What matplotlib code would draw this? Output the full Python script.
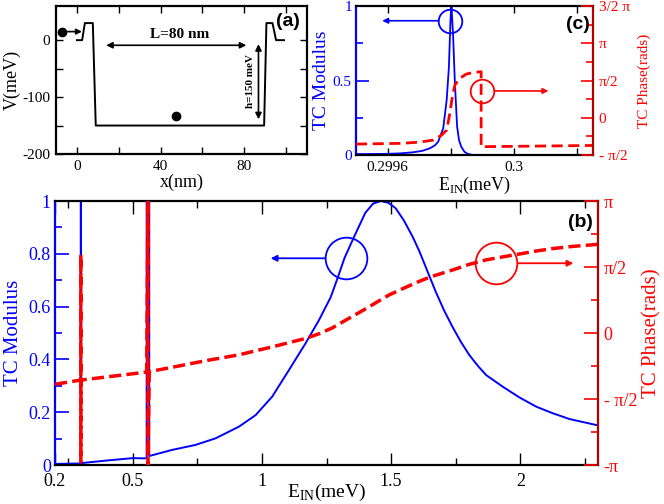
import numpy as np
import matplotlib
matplotlib.use('Agg')
import matplotlib.pyplot as plt

plt.rcParams['font.family'] = ['Liberation Serif', 'DejaVu Serif']
plt.rcParams['mathtext.fontset'] = 'custom'
plt.rcParams['mathtext.rm'] = 'Liberation Serif'
plt.rcParams['axes.unicode_minus'] = False

PI = np.pi

# ---------------- data ----------------
# (a) potential profile
pot_x = [0, 2.5, 3.8, 7.6, 9.0, 89.5, 90.6, 93.5, 95.2, 99]
pot_v = [0, 0, 30, 30, -150, -150, 30, 30, 0, 0]

# (b) TC modulus vs energy
E_b = [0.2, 0.25, 0.2997, 0.2997, 0.3003, 0.3003, 0.40, 0.50, 0.5545, 0.5545,
       0.5645, 0.5645, 0.652, 0.743, 0.821, 0.911, 0.976, 1.04, 1.105, 1.169,
       1.221, 1.266, 1.29, 1.32, 1.357, 1.40, 1.43, 1.46, 1.49, 1.518, 1.55,
       1.583, 1.609, 1.64, 1.673, 1.705, 1.738, 1.77, 1.802, 1.835, 1.867,
       1.931, 1.996, 2.061, 2.125, 2.19, 2.3]
mod_b = [0.004, 0.005, 0.006, 1.0, 1.0, 0.007, 0.017, 0.026, 0.025, 1.0,
         1.0, 0.034, 0.057, 0.076, 0.101, 0.145, 0.189, 0.259, 0.36, 0.461,
         0.549, 0.635, 0.70, 0.785, 0.865, 0.955, 0.99, 1.0, 0.993, 0.972, 0.925,
         0.865, 0.81, 0.735, 0.655, 0.585, 0.522, 0.466, 0.417, 0.376, 0.341,
         0.297, 0.256, 0.221, 0.196, 0.174, 0.150]

# (b) TC phase vs energy
E_pb = [0.2, 0.2995, 0.3, 0.3, 0.3005, 0.5545, 0.5595, 0.5595, 0.5645,
        0.65, 0.782, 0.911, 1.04, 1.169, 1.22, 1.272, 1.337, 1.40, 1.49,
        1.55, 1.609, 1.654, 1.738, 1.80, 1.867, 1.93, 1.996, 2.06, 2.125,
        2.2, 2.3]
ph_b = [-1.22, -1.12, 1.86, -3.07, -1.12, -0.93, 3.14, -3.14, -0.92,
        -0.82, -0.66, -0.52, -0.33, -0.13, -0.02, 0.12, 0.35, 0.57, 0.90,
        1.07, 1.23, 1.34, 1.50, 1.63, 1.74, 1.81, 1.88, 1.95, 2.01,
        2.06, 2.11]

# (c) zoom on first resonance
E_c = [0.2995, 0.2996, 0.29964, 0.29968, 0.29971, 0.299734, 0.29975, 0.29976,
       0.299776, 0.299787, 0.299794, 0.299799, 0.299802, 0.299807, 0.299813,
       0.29982, 0.299826, 0.299833, 0.299843, 0.299854, 0.29987, 0.30025]
mod_c = [0.006, 0.008, 0.011, 0.018, 0.028, 0.045, 0.065, 0.089,
         0.179, 0.37, 0.59, 0.906, 1.0, 0.817, 0.48,
         0.19, 0.10, 0.056, 0.022, 0.007, 0.0, 0.0]

E_pc = [0.2995, 0.299641, 0.2997, 0.299745, 0.299771, 0.299787, 0.299797,
        0.299805, 0.299813, 0.299828, 0.299849, 0.29987, 0.299896, 0.299896,
        0.30025]
ph_c = [-1.11, -1.08, -1.03, -0.94, -0.73, -0.52, 0.19,
        0.89, 1.38, 1.66, 1.84, 1.91, 1.94, -1.22, -1.17]

# tick labels
b_xticks = [0.2, 0.5, 1.0, 1.5, 2.0]
b_xlabels = ['0.2', '0.5', '1', '1.5', '2']
b_xminor = [0.25, 0.75, 1.25, 1.75, 2.25]
b_phticks = [-PI, -PI/2, 0, PI/2, PI]
b_phlabels = ['-π', '- π/2', '0', 'π/2', 'π']
c_xticks = [0.2996, 0.3]
c_xlabels = ['0.2996', '0.3']
c_xminor = [0.2998, 0.3002]
c_phticks = [-PI/2, 0, PI/2, PI, 1.5*PI]
c_phlabels = ['- π/2', '0', 'π/2', 'π', '3/2 π']

# ---------------- figure ----------------
W, H = 664, 504
fig = plt.figure(figsize=(W/100, H/100), dpi=100)

def box(l, t, r, b):
    return [l/W, 1-b/H, (r-l)/W, (b-t)/H]

BLUE = '#0000ff'
RED = '#ff0000'
DRED = '#b00000'
SPW = 1.6
SANS = ['Liberation Sans', 'DejaVu Sans']

# ---------- panel (a) ----------
axa = fig.add_axes(box(56, 6, 307, 154))
axa.plot(pot_x, pot_v, color='black', lw=1.4)
axa.set_xlim(-10, 110)
axa.set_ylim(-200, 60)
axa.set_xticks([0, 40, 80])
axa.set_xticks([20, 60, 100], minor=True)
axa.set_yticks([0, -100, -200])
axa.set_yticks([-50, -150], minor=True)
axa.tick_params(which='both', direction='in', top=True, right=True,
                length=5, width=1.0, labelsize=11, pad=4)
for s in axa.spines.values():
    s.set_linewidth(SPW)
axa.set_xlabel('x(nm)', fontsize=13, labelpad=1)
axa.set_ylabel('V(meV)', fontsize=13, labelpad=1)
axa.plot([-7], [15], 'o', color='black', ms=6)
axa.plot([47.5], [-134], 'o', color='black', ms=6)
axa.annotate('', xy=(2.4, 15), xytext=(-4.5, 15),
             arrowprops=dict(arrowstyle='-|>', color='black', lw=1.2,
                             mutation_scale=8, shrinkA=0, shrinkB=0))
axa.annotate('', xy=(81, -9), xytext=(14, -9),
             arrowprops=dict(arrowstyle='<|-|>', color='black', lw=1.2,
                             mutation_scale=9, shrinkA=0, shrinkB=0))
axa.text(49, 10, 'L=80 nm', ha='center', va='center', fontsize=11,
         fontweight='bold')
axa.annotate('', xy=(86.8, -139), xytext=(86.8, -7),
             arrowprops=dict(arrowstyle='<|-|>', color='black', lw=1.2,
                             mutation_scale=9, shrinkA=0, shrinkB=0))
axa.text(83, -72, 'h=150 meV', rotation=90, ha='center', va='center',
         fontsize=8, fontweight='bold')
axa.text(0.924, 0.894, '(a)', transform=axa.transAxes, ha='center',
         va='center', fontsize=14, fontweight='bold', family=SANS)

# ---------- panel (c) ----------
axc = fig.add_axes(box(356, 6, 593, 155))
axc.plot(E_c, mod_c, color=BLUE, lw=1.3)
axc.set_xlim(0.2995, 0.30025)
axc.set_ylim(0, 1)
axc.set_xticks(c_xticks, c_xlabels)
axc.set_xticks(c_xminor, minor=True)
axc.set_yticks([0, 0.5, 1], ['0', '0.5', '1'])
axc.set_yticks([0.25, 0.75], minor=True)
axc.tick_params(axis='x', which='both', direction='in', top=True,
                length=5, width=1.0, labelsize=11, pad=4)
axc.tick_params(axis='y', which='major', direction='in', length=9, width=1.2,
                color=BLUE, labelcolor=BLUE, labelsize=11, pad=3)
axc.tick_params(axis='y', which='minor', direction='in', length=5, width=1.2,
                color=BLUE)
axc.set_xlabel('E$_{\\mathregular{IN}}$(meV)', fontsize=13, labelpad=1)
axc.set_ylabel('TC Modulus', fontsize=14, color=BLUE, labelpad=2)
for k, s in axc.spines.items():
    s.set_linewidth(SPW)
axc.spines['left'].set_color(BLUE)
axc.spines['right'].set_visible(False)

axc2 = axc.twinx()
axc2.plot(E_pc, ph_c, color=RED, lw=2.0, linestyle=(0, (4, 2)))
axc2.set_ylim(-PI/2, 1.5*PI)
axc2.set_yticks(c_phticks, c_phlabels)
axc2.set_yticks([-PI/4, PI/4, 3*PI/4, 5*PI/4], minor=True)
axc2.tick_params(axis='y', which='major', direction='in', length=9, width=1.2,
                 color=RED, labelcolor=RED, labelsize=11, pad=4)
axc2.tick_params(axis='y', which='minor', direction='in', length=5, width=1.2,
                 color=RED)
axc2.set_ylabel('TC Phase(rads)', fontsize=11, color=RED, labelpad=6)
for k in ['left', 'top', 'bottom']:
    axc2.spines[k].set_visible(False)
axc2.spines['right'].set_color(DRED)
axc2.spines['right'].set_linewidth(SPW)

axc.plot([0.299799], [0.901], 'o', ms=17, mfc='none', mec=BLUE, mew=1.3)
axc.annotate('', xy=(0.299583, 0.901), xytext=(0.299762, 0.901),
             arrowprops=dict(arrowstyle='-|>', color=BLUE, lw=1.2,
                             mutation_scale=8, shrinkA=0, shrinkB=0))
axc2.plot([0.299899], [1.13], 'o', ms=17, mfc='none', mec=RED, mew=1.3)
axc2.annotate('', xy=(0.300109, 1.13), xytext=(0.299938, 1.13),
              arrowprops=dict(arrowstyle='-|>', color=RED, lw=1.2,
                              mutation_scale=8, shrinkA=0, shrinkB=0))
axc2.text(0.938, 0.879, '(c)', transform=axc2.transAxes, ha='center',
          va='center', fontsize=14, fontweight='bold', family=SANS)

# ---------- panel (b) ----------
axb = fig.add_axes(box(55, 201, 598, 465))
axb.plot(E_b, mod_b, color=BLUE, lw=1.4)
axb.set_xlim(0.2, 2.3)
axb.set_ylim(0, 1)
axb.set_xticks(b_xticks, b_xlabels)
axb.set_xticks(b_xminor, minor=True)
axb.set_yticks([0, 0.2, 0.4, 0.6, 0.8, 1.0], ['0', '0.2', '0.4', '0.6', '0.8', '1'])
axb.set_yticks([0.1, 0.3, 0.5, 0.7, 0.9], minor=True)
axb.tick_params(axis='x', which='major', direction='in', top=True,
                length=9, width=1.0, labelsize=13, pad=6)
axb.tick_params(axis='x', which='minor', direction='in', top=True,
                length=5, width=1.0)
axb.tick_params(axis='y', which='major', direction='in', length=10, width=1.2,
                color=BLUE, labelcolor=BLUE, labelsize=13, pad=3)
axb.tick_params(axis='y', which='minor', direction='in', length=5, width=1.2,
                color=BLUE)
axb.set_xlabel('E$_{\\mathregular{IN}}$(meV)', fontsize=14, labelpad=-6)
axb.set_ylabel('TC Modulus', fontsize=15, color=BLUE, labelpad=4)
for k, s in axb.spines.items():
    s.set_linewidth(SPW)
axb.spines['left'].set_color(BLUE)
axb.spines['right'].set_visible(False)

axb2 = axb.twinx()
axb2.plot(E_pb, ph_b, color=RED, lw=2.5, linestyle=(0, (3.5, 1.5)))
axb2.set_ylim(-PI, PI)
axb2.set_yticks(b_phticks, b_phlabels)
axb2.set_yticks([-3*PI/4, -PI/4, PI/4, 3*PI/4], minor=True)
axb2.tick_params(axis='y', which='major', direction='in', length=10, width=1.2,
                 color=RED, labelcolor=RED, labelsize=13, pad=4)
axb2.tick_params(axis='y', which='minor', direction='in', length=5, width=1.2,
                 color=RED)
axb2.set_ylabel('TC Phase(rads)', fontsize=15, color=RED, labelpad=4)
for k in ['left', 'top', 'bottom']:
    axb2.spines[k].set_visible(False)
axb2.spines['right'].set_color(DRED)
axb2.spines['right'].set_linewidth(SPW)

axb.plot([1.326], [0.784], 'o', ms=30, mfc='none', mec=BLUE, mew=1.3)
axb.annotate('', xy=(1.034, 0.783), xytext=(1.245, 0.783),
             arrowprops=dict(arrowstyle='-|>', color=BLUE, lw=1.3,
                             mutation_scale=9, shrinkA=0, shrinkB=0))
axb2.plot([1.905], [1.67], 'o', ms=30, mfc='none', mec=RED, mew=1.3)
axb2.annotate('', xy=(2.205, 1.66), xytext=(1.990, 1.66),
              arrowprops=dict(arrowstyle='-|>', color=RED, lw=1.3,
                              mutation_scale=9, shrinkA=0, shrinkB=0))
axb2.text(0.967, 0.92, '(b)', transform=axb2.transAxes, ha='center',
          va='center', fontsize=14, fontweight='bold', family=SANS)

fig.savefig('out.png', dpi=100)
